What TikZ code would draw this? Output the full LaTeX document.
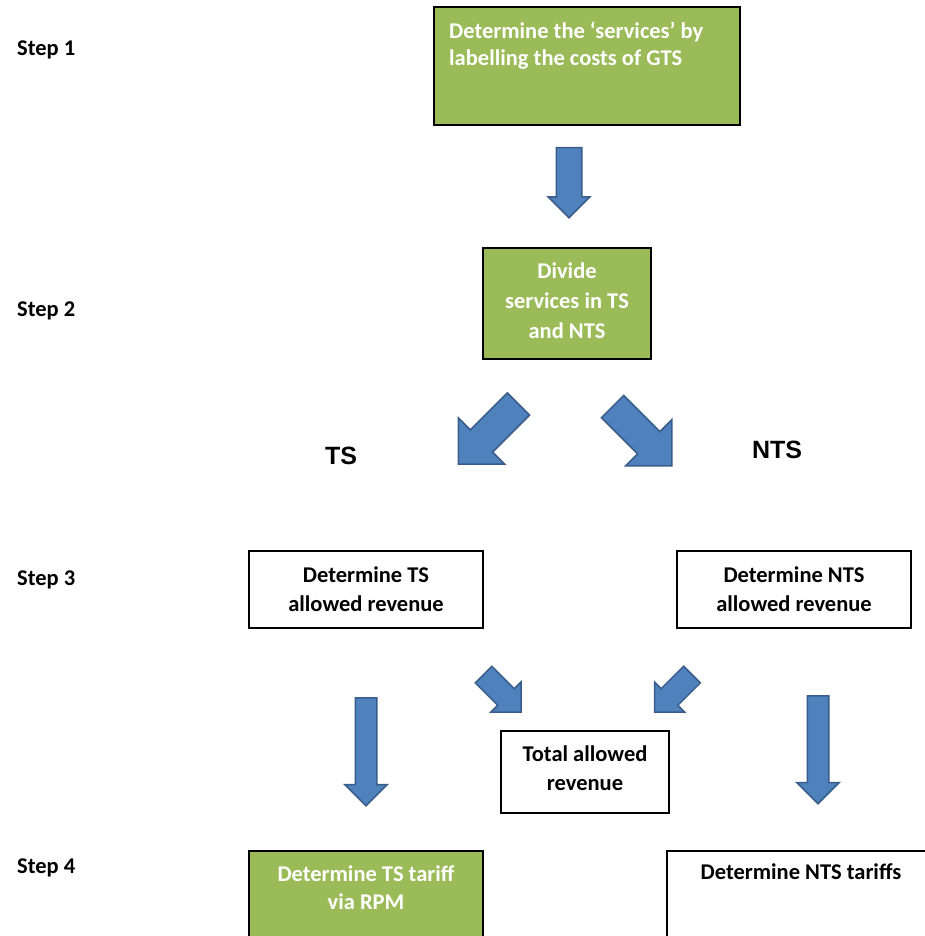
\documentclass[tikz,border=0pt]{standalone}
\usepackage{fontspec}
\setmainfont{Carlito}
\newfontfamily\arialfont{Liberation Sans}
\usepackage{xcolor}
\usepackage{tikz}
\usetikzlibrary{shapes.arrows, positioning}

\definecolor{boxgreen}{HTML}{9BBB59}
\definecolor{arrowblue}{HTML}{4F81BD}
\definecolor{arrowedge}{HTML}{385D8A}

\begin{document}
\begin{tikzpicture}[x=1pt, y=-1pt]
\tikzstyle{greenbox} = [rectangle, draw=black, line width=1.2pt, fill=boxgreen, inner sep=0pt, text=white, align=center]
\tikzstyle{whitebox} = [rectangle, draw=black, line width=1.2pt, fill=white, inner sep=0pt, align=center]
\tikzstyle{boxtext} = [inner sep=0pt, align=center, font=\bfseries\fontsize{22.5}{29}\selectfont]
\tikzstyle{steplabel} = [anchor=base west, inner sep=0pt, font=\bfseries\fontsize{22.5}{26}\selectfont]
\tikzstyle{branchlabel} = [anchor=base, inner sep=0pt, font=\arialfont\bfseries\fontsize{25}{30}\selectfont]
\tikzstyle{blockarrow} = [single arrow, draw=arrowedge, fill=arrowblue, line width=1.5pt, minimum width=0pt, anchor=tail]

\useasboundingbox (0,0) rectangle (925,936);
\clip (0,0) rectangle (925,936);

% step labels
\node [steplabel] (step1) at (17,56) {Step 1};
\node [steplabel] (step2) at (17,316) {Step 2};
\node [steplabel] (step3) at (17,585) {Step 3};
\node [steplabel] (step4) at (17,873) {Step 4};

% step 1
\node [greenbox, minimum width=306, minimum height=118] (gtsbox) at (587,66) {};
\node [boxtext, text=white, align=left, anchor=north west, font=\bfseries\fontsize{22.5}{27}\selectfont] (gtstext) at (449,22) {Determine the ‘services’ by\\labelling the costs of GTS};
\node [blockarrow, minimum height=70, inner sep=12, single arrow head extend=8, rotate=-90] (arrowdown) at (569,147) {};

% step 2
\node [greenbox, minimum width=168, minimum height=111] (dividebox) at (567,303.5) {};
\node [boxtext, text=white, font=\bfseries\fontsize{22.5}{30}\selectfont] (dividetext) at (567,301) {Divide\\services in TS\\and NTS};
\node [blockarrow, minimum height=85, inner sep=15, single arrow head extend=17, rotate=-135] (splitleft) at (519,403.5) {};
\node [blockarrow, minimum height=84, inner sep=15, single arrow head extend=17, rotate=-45] (splitright) at (612,406) {};
\node [branchlabel] (tslabel) at (341,464) {TS};
\node [branchlabel] (ntslabel) at (777,458) {NTS};

% step 3
\node [whitebox, boxtext, minimum width=234, minimum height=77] (tsrevenue) at (366,589.5) {Determine TS\\allowed revenue};
\node [whitebox, boxtext, minimum width=234, minimum height=77] (ntsrevenue) at (794,589.5) {Determine NTS\\allowed revenue};
\node [blockarrow, minimum height=53, inner sep=11, single arrow head extend=9.5, rotate=-45] (mergeleft) at (483,674) {};
\node [blockarrow, minimum height=53, inner sep=11, single arrow head extend=9.5, rotate=-135] (mergeright) at (692.5,674) {};
\node [whitebox, minimum width=168, minimum height=82] (totalbox) at (585,772) {};
\node [boxtext] (totaltext) at (585,768) {Total allowed\\revenue};
\node [blockarrow, minimum height=108, inner sep=10, single arrow head extend=10.5, rotate=-90] (tsdown) at (366,697) {};
\node [blockarrow, minimum height=108, inner sep=10, single arrow head extend=10.5, rotate=-90] (ntsdown) at (818,695) {};

% step 4
\node [greenbox, minimum width=234, minimum height=120] (tstariff) at (366,911) {};
\node [boxtext, text=white, anchor=north, font=\bfseries\fontsize{22.5}{28}\selectfont] (tstarifftext) at (366,865) {Determine TS tariff\\via RPM};
\node [whitebox, minimum width=300, minimum height=120] (ntstariff) at (817,911) {};
\node [boxtext, anchor=base] (ntstarifftext) at (801,879) {Determine NTS tariffs};

\end{tikzpicture}
\end{document}
